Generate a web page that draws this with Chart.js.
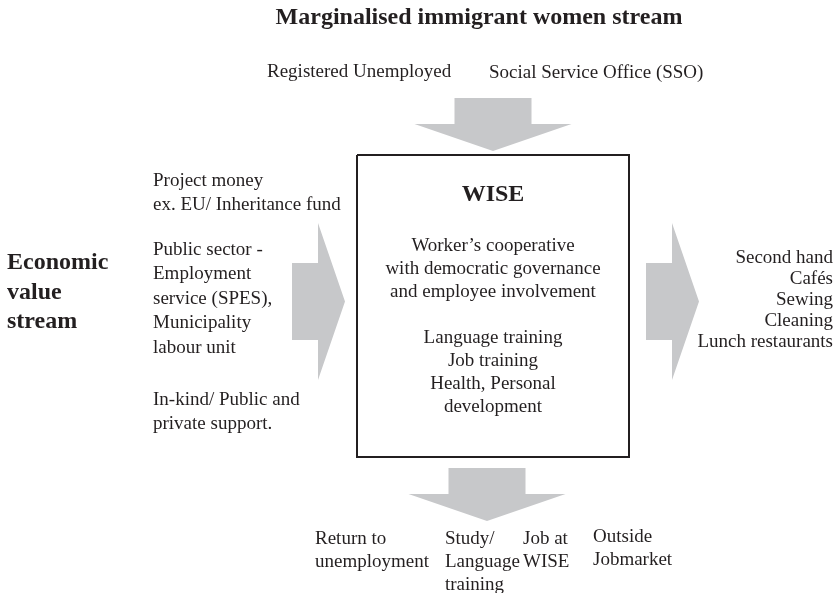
<!DOCTYPE html>
<html>
<head>
<meta charset="utf-8">
<title>WISE value streams</title>
<script src="https://cdn.jsdelivr.net/npm/chart.js@4/dist/chart.umd.min.js"></script>
<style>
  html, body { margin: 0; padding: 0; background: #fff; }
  #diagram { display: block; }
</style>
</head>
<body>
<canvas id="diagram" width="837" height="593"></canvas>
<script>
// Texts of the diagram
var titleText = 'Marginalised immigrant women stream';
var streamLabel = ['Economic', 'value', 'stream'];
var inflowLabels = ['Registered Unemployed', 'Social Service Office (SSO)'];
var fundingLabels = [
    ['Project money', 'ex. EU/ Inheritance fund'],
    ['Public sector -', 'Employment', 'service (SPES),', 'Municipality', 'labour unit'],
    ['In-kind/ Public and', 'private support.']
];
var wiseTitle = 'WISE';
var wiseLines = [
    ['Worker\u2019s cooperative', 'with democratic governance', 'and employee involvement'],
    ['Language training', 'Job training', 'Health, Personal', 'development']
];
var marketLabels = ['Second hand', 'Caf\u00e9s', 'Sewing', 'Cleaning', 'Lunch restaurants'];
var outcomeLabels = [
    ['Return to', 'unemployment'],
    ['Study/', 'Language', 'training'],
    ['Job at', 'WISE'],
    ['Outside', 'Jobmarket']
];

// Layout (diagram units, same size as the page)
var layout = {
    width: 837,
    height: 593,
    title: { x: 479, y: 18 },
    stream: { x: 7, y: 263, step: 29.5 },
    inflow: [{ x: 267, y: 72 }, { x: 489, y: 73 }],
    funding: [{ x: 153, y: 181.5, step: 23.5 }, { x: 153, y: 250, step: 24.5 }, { x: 153, y: 400, step: 24 }],
    box: { left: 357, top: 155, right: 629, bottom: 457 },
    wiseTitle: { x: 493, y: 195 },
    wiseLines: [{ x: 493, y: 246, step: 23 }, { x: 493, y: 338, step: 23 }],
    market: { x: 833, y: 258, step: 21 },
    outcomes: [{ x: 315, y: 539, step: 23 }, { x: 445, y: 539, step: 23 }, { x: 523, y: 539, step: 23 }, { x: 593, y: 537, step: 23 }],
    // block arrows: start of stem, centre line, direction
    arrows: [
        { dir: 'down', c: 493, s: 98 },
        { dir: 'down', c: 487, s: 468 },
        { dir: 'right', c: 301.5, s: 292 },
        { dir: 'right', c: 301.5, s: 646 }
    ],
    arrowSize: { stemW: 77, stemL: 26, headW: 157, headL: 27 }
};

// Styles
var style = {
    text: '#231f20',
    arrow: '#c7c8ca',
    serif: '"Liberation Serif", "Times New Roman", serif',
    small: 19,
    big: 24
};

// Utils
var px = function(chart, x, y) {
    return [chart.scales.x.getPixelForValue(x), chart.scales.y.getPixelForValue(y)];
};

var drawLines = function(ctx, chart, lines, pos, align) {
    ctx.textAlign = align;
    lines.forEach(function(line, i) {
        var p = px(chart, pos.x, pos.y + i * pos.step);
        ctx.fillText(line, p[0], p[1]);
    });
};

var arrowPoints = function(a) {
    var s = layout.arrowSize;
    // points along (u = flow direction, v = across)
    var pts = [
        [0, -s.stemW / 2], [s.stemL, -s.stemW / 2], [s.stemL, -s.headW / 2],
        [s.stemL + s.headL, 0],
        [s.stemL, s.headW / 2], [s.stemL, s.stemW / 2], [0, s.stemW / 2]
    ];
    return pts.map(function(p) {
        if (a.dir === 'down') return [a.c + p[1], a.s + p[0]];
        return [a.s + p[0], a.c + p[1]];
    });
};

var arrowPlugin = {
    id: 'blockArrows',
    beforeDatasetsDraw: function(chart) {
        var ctx = chart.ctx;
        ctx.save();
        ctx.fillStyle = style.arrow;
        layout.arrows.forEach(function(a) {
            ctx.beginPath();
            arrowPoints(a).forEach(function(pt, i) {
                var p = px(chart, pt[0], pt[1]);
                if (i === 0) ctx.moveTo(p[0], p[1]); else ctx.lineTo(p[0], p[1]);
            });
            ctx.closePath();
            ctx.fill();
        });
        ctx.restore();
    }
};

var textPlugin = {
    id: 'diagramText',
    afterDatasetsDraw: function(chart) {
        var ctx = chart.ctx;
        ctx.save();
        ctx.fillStyle = style.text;
        ctx.textBaseline = 'middle';

        // Bold headings
        ctx.font = 'bold ' + style.big + 'px ' + style.serif;
        drawLines(ctx, chart, [titleText], { x: layout.title.x, y: layout.title.y, step: 0 }, 'center');
        drawLines(ctx, chart, streamLabel, layout.stream, 'left');
        drawLines(ctx, chart, [wiseTitle], { x: layout.wiseTitle.x, y: layout.wiseTitle.y, step: 0 }, 'center');

        // Regular text
        ctx.font = style.small + 'px ' + style.serif;
        inflowLabels.forEach(function(t, i) {
            drawLines(ctx, chart, [t], { x: layout.inflow[i].x, y: layout.inflow[i].y, step: 0 }, 'left');
        });
        fundingLabels.forEach(function(g, i) {
            drawLines(ctx, chart, g, layout.funding[i], 'left');
        });
        wiseLines.forEach(function(g, i) {
            drawLines(ctx, chart, g, layout.wiseLines[i], 'center');
        });
        drawLines(ctx, chart, marketLabels, layout.market, 'right');
        outcomeLabels.forEach(function(g, i) {
            drawLines(ctx, chart, g, layout.outcomes[i], 'left');
        });
        ctx.restore();
    }
};

// WISE box as a closed line
var b = layout.box;
var boxOutline = [
    { x: b.left, y: b.top }, { x: b.right, y: b.top },
    { x: b.right, y: b.bottom }, { x: b.left, y: b.bottom },
    { x: b.left, y: b.top }
];

var chart = new Chart(document.getElementById('diagram'), {
    type: 'scatter',
    data: {
        datasets: [{
            label: 'WISE',
            data: boxOutline,
            showLine: true,
            borderColor: style.text,
            borderWidth: 2,
            pointRadius: 0,
            tension: 0,
            fill: false
        }]
    },
    options: {
        responsive: false,
        animation: false,
        devicePixelRatio: 1,
        layout: { padding: 0 },
        plugins: {
            legend: { display: false },
            tooltip: { enabled: false }
        },
        scales: {
            x: { type: 'linear', min: 0, max: layout.width, display: false },
            y: { type: 'linear', min: 0, max: layout.height, reverse: true, display: false }
        }
    },
    plugins: [arrowPlugin, textPlugin]
});
</script>
</body>
</html>
